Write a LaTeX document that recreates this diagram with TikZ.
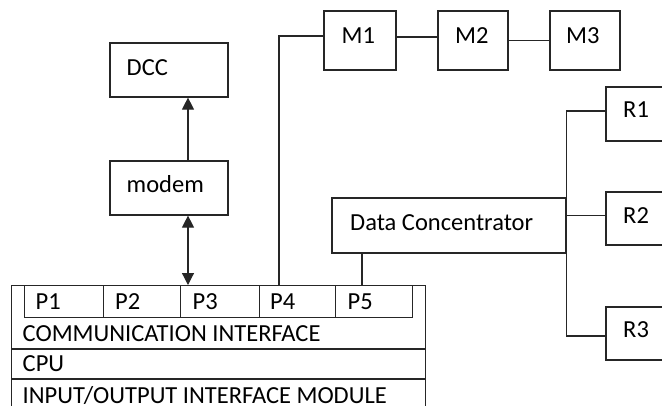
\documentclass[tikz,border=0pt]{standalone}
\usepackage{fontspec}
\setmainfont{Carlito}
\usetikzlibrary{arrows.meta,calc}
\begin{document}
\begin{tikzpicture}[x=1pt,y=-1pt,
  box/.style={draw=black!85,line width=1.2pt,rectangle,inner sep=0pt},
  txt/.style={anchor=base west,inner sep=0pt,font=\fontsize{24.5}{28}\selectfont},
  wire/.style={draw=black!85,line width=1.2pt},
  arr/.style={wire,-{Triangle[length=12pt,width=12pt]}},
  darr/.style={wire,{Triangle[length=12pt,width=12pt]}-{Triangle[length=12pt,width=12pt]}}]
\useasboundingbox (0,0) rectangle (662,405);
\clip (0,0) rectangle (662,405);
% boxes
\node[box,minimum width=118pt,minimum height=54pt] (dcc) at (169,70) {};
\node[box,minimum width=118pt,minimum height=54pt] (modem) at (169,188) {};
\node[box,minimum width=72pt,minimum height=59pt] (m1) at (360,40.5) {};
\node[box,minimum width=70pt,minimum height=59pt] (m2) at (473,40.5) {};
\node[box,minimum width=70pt,minimum height=59pt] (m3) at (585,40.5) {};
\node[box,minimum width=234pt,minimum height=55pt] (dc) at (449,225.5) {};
\node[box,minimum width=80pt,minimum height=54pt] (r1) at (646,114) {};
\node[box,minimum width=80pt,minimum height=53pt] (r2) at (646,218.5) {};
\node[box,minimum width=80pt,minimum height=53pt] (r3) at (646,333.5) {};
% main unit
\node[box,minimum width=414pt,minimum height=140pt,anchor=north west] (main) at (11,285) {};
\node[box,minimum width=79pt,minimum height=32pt,anchor=north west] (p1) at (24,285) {};
\node[box,minimum width=77pt,minimum height=32pt,anchor=north west] (p2) at (103,285) {};
\node[box,minimum width=79pt,minimum height=32pt,anchor=north west] (p3) at (180,285) {};
\node[box,minimum width=76pt,minimum height=32pt,anchor=north west] (p4) at (259,285) {};
\node[box,minimum width=77pt,minimum height=32pt,anchor=north west] (p5) at (335,285) {};
\coordinate (row1) at (0,349);
\coordinate (row2) at (0,379);
\draw[wire] (main.west |- row1) -- (main.east |- row1);
\draw[wire] (main.west |- row2) -- (main.east |- row2);
% texts
\node[txt] (tdcc) at (126.5,75) {DCC};
\node[txt] (tmodem) at (126.5,192) {modem};
\node[txt] (tm1) at (341.5,43.5) {M1};
\node[txt] (tm2) at (455,43.5) {M2};
\node[txt] (tm3) at (566,43.5) {M3};
\node[txt] (tdc) at (350,230) {Data Concentrator};
\node[txt] (tr1) at (623,117) {R1};
\node[txt] (tr2) at (623,223) {R2};
\node[txt] (tr3) at (623,337) {R3};
\node[txt] (tp1) at (35.5,309) {P1};
\node[txt] (tp2) at (115,309) {P2};
\node[txt] (tp3) at (192.5,309) {P3};
\node[txt] (tp4) at (270,309) {P4};
\node[txt] (tp5) at (347.5,309) {P5};
\node[txt] (tci) at (22.5,341.5) {COMMUNICATION INTERFACE};
\node[txt] (tcpu) at (22.5,371.5) {CPU};
\node[txt] (tio) at (22.5,403) {INPUT/OUTPUT INTERFACE MODULE};
% connectors
\coordinate (ax) at (188,0);
\coordinate (lx) at (279,0);
\coordinate (dx) at (362,0);
\draw[arr] (modem.north -| ax) -- (dcc.south -| ax);
\draw[darr] (modem.south -| ax) -- (main.north -| ax);
\draw[wire] (main.north -| lx) |- ([yshift=4.5pt]m1.west);
\draw[wire] ([yshift=3.5pt]m1.east) -- ([yshift=3.5pt]m2.west);
\draw[wire] (m2.east) -- (m3.west);
\draw[wire] (dc.south -| dx) -- (main.north -| dx);
\draw[wire] ([yshift=3pt]r1.west) -- ([yshift=3pt]r1.west -| dc.east) -- ([yshift=-2.5pt]r3.west -| dc.east) -- ([yshift=-2.5pt]r3.west);
\draw[wire] ([yshift=3pt]r2.west) -- ([yshift=3pt]r2.west -| dc.east);
\end{tikzpicture}
\end{document}
